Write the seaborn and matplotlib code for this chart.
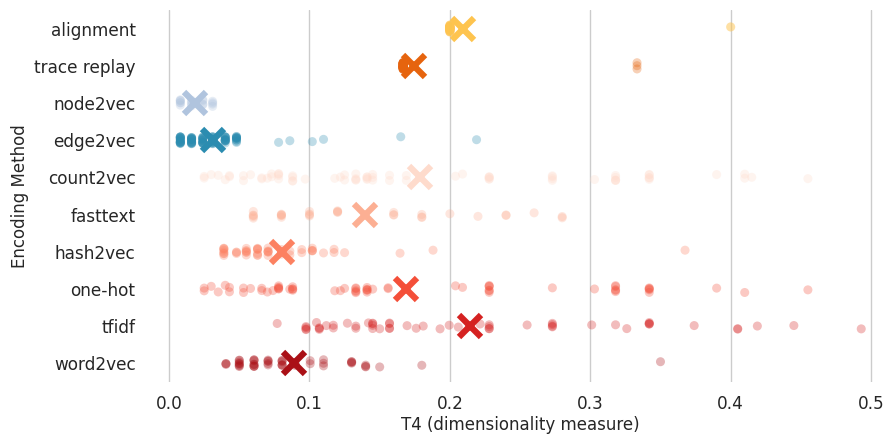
import numpy as np
import pandas as pd
import matplotlib
matplotlib.use("Agg")
import matplotlib.pyplot as plt
import seaborn as sns

# ---- data (counts = number of runs at each value) ----
methods = ["alignment", "trace replay", "node2vec", "edge2vec", "count2vec",
           "fasttext", "hash2vec", "one-hot", "tfidf", "word2vec"]

alignment_vals = [0.200, 0.400]
alignment_cnt = [42, 2]

trace_vals = [0.1667, 0.3333]
trace_cnt = [62, 3]

node2vec_vals = [0.008, 0.016, 0.024, 0.031]
node2vec_cnt = [6, 4, 4, 4]

edge2vec_vals = [0.008, 0.016, 0.024, 0.031, 0.040, 0.048, 0.078, 0.086, 0.102, 0.110, 0.165, 0.219]
edge2vec_cnt = [20, 18, 16, 16, 14, 12, 1, 1, 1, 1, 1, 1]

count2vec_vals = [0.025, 0.030, 0.035, 0.040, 0.043, 0.053, 0.058, 0.066, 0.070, 0.073, 0.078, 0.088,
                  0.097, 0.118, 0.122, 0.125, 0.133, 0.141, 0.145, 0.157, 0.169, 0.204, 0.209, 0.228,
                  0.273, 0.303, 0.318, 0.342, 0.390, 0.410, 0.415, 0.455]
count2vec_cnt = [2, 1, 1, 1, 2, 2, 1, 2, 1, 2, 4, 4,
                 1, 1, 1, 2, 4, 4, 3, 2, 2, 1, 1, 5,
                 4, 1, 5, 5, 1, 2, 1, 1]

fasttext_vals = [0.060, 0.080, 0.100, 0.120, 0.160, 0.180, 0.200, 0.220, 0.240, 0.260, 0.280]
fasttext_cnt = [5, 5, 4, 4, 3, 3, 1, 1, 2, 1, 2]

hash2vec_vals = [0.039, 0.048, 0.055, 0.063, 0.0705, 0.080, 0.086, 0.0945, 0.102, 0.110, 0.1175,
                 0.125, 0.1645, 0.188, 0.3675]
hash2vec_cnt = [8, 3, 6, 7, 6, 3, 2, 2, 4, 1, 2, 1, 1, 1, 1]

onehot_vals = [0.025, 0.030, 0.035, 0.040, 0.043, 0.053, 0.058, 0.066, 0.070, 0.074, 0.078, 0.086,
               0.088, 0.118, 0.122, 0.125, 0.133, 0.141, 0.145, 0.156, 0.204, 0.209, 0.228, 0.273,
               0.303, 0.318, 0.342, 0.390, 0.410, 0.455]
onehot_cnt = [2, 1, 1, 1, 2, 2, 1, 2, 1, 1, 5, 1,
              4, 1, 1, 1, 5, 5, 1, 2, 1, 1, 6, 1,
              1, 5, 5, 1, 1, 1]

tfidf_vals = [0.077, 0.0975, 0.105, 0.107, 0.112, 0.117, 0.127, 0.133, 0.142, 0.145, 0.150, 0.157,
              0.1695, 0.176, 0.181, 0.193, 0.1995, 0.206, 0.2215, 0.228, 0.255, 0.273, 0.301, 0.318,
              0.326, 0.342, 0.374, 0.405, 0.419, 0.445, 0.493]
tfidf_cnt = [1, 4, 1, 3, 1, 2, 1, 2, 1, 4, 1, 4,
             1, 1, 1, 1, 1, 1, 1, 4, 1, 4, 1, 1,
             1, 4, 1, 2, 1, 1, 1]

word2vec_vals = [0.0405, 0.050, 0.0605, 0.0705, 0.0805, 0.090, 0.1005, 0.110, 0.130, 0.140, 0.150,
                 0.180, 0.350]
word2vec_cnt = [3, 8, 8, 5, 6, 2, 2, 3, 4, 3, 1, 1, 1]

colors = ["#fec44f", "#e6640e", "#b0c4de", "#2b8cb0"] + [matplotlib.colors.to_hex(c) for c in sns.color_palette("Reds", 6)]

# ---- build long table ----
series = [(alignment_vals, alignment_cnt), (trace_vals, trace_cnt), (node2vec_vals, node2vec_cnt),
          (edge2vec_vals, edge2vec_cnt), (count2vec_vals, count2vec_cnt), (fasttext_vals, fasttext_cnt),
          (hash2vec_vals, hash2vec_cnt), (onehot_vals, onehot_cnt), (tfidf_vals, tfidf_cnt),
          (word2vec_vals, word2vec_cnt)]
frames = []
for m, (v, c) in zip(methods, series):
    frames.append(pd.DataFrame({"method": m, "value": np.repeat(v, c)}))
df = pd.concat(frames, ignore_index=True)
palette = dict(zip(methods, colors))

# ---- plot ----
sns.set_theme(style="whitegrid")
plt.rcParams["font.family"] = ["DejaVu Sans"]
plt.rcParams["grid.color"] = "#cccccc"

fig, ax = plt.subplots(figsize=(8.86, 4.34), dpi=100)
np.random.seed(3)
sns.stripplot(data=df, x="value", y="method", hue="method", order=methods, hue_order=methods,
              palette=palette, alpha=0.3, size=6.5, jitter=0.1, linewidth=0, legend=False, ax=ax)
sns.pointplot(data=df, x="value", y="method", hue="method", order=methods, hue_order=methods,
              palette=palette, estimator="mean", errorbar=None, markers="x", linestyles="none",
              markersize=16, markeredgewidth=4.5, legend=False, ax=ax)

ax.set_xlim(-0.01, 0.51)
ax.set_xticks([0.0, 0.1, 0.2, 0.3, 0.4, 0.5])
ax.set_xticklabels(["0.0", "0.1", "0.2", "0.3", "0.4", "0.5"])
ax.set_xlabel("T4 (dimensionality measure)", fontsize=12, color="#262626", labelpad=2)
ax.set_ylabel("Encoding Method", fontsize=12, color="#262626")
ax.tick_params(axis="both", labelsize=12.2, colors="#262626")
ax.tick_params(axis="y", pad=8)
sns.despine(ax=ax, left=True, bottom=True)
fig.subplots_adjust(left=0.175, right=0.999, top=0.977, bottom=0.12)
fig.savefig("out.png", dpi=100)
